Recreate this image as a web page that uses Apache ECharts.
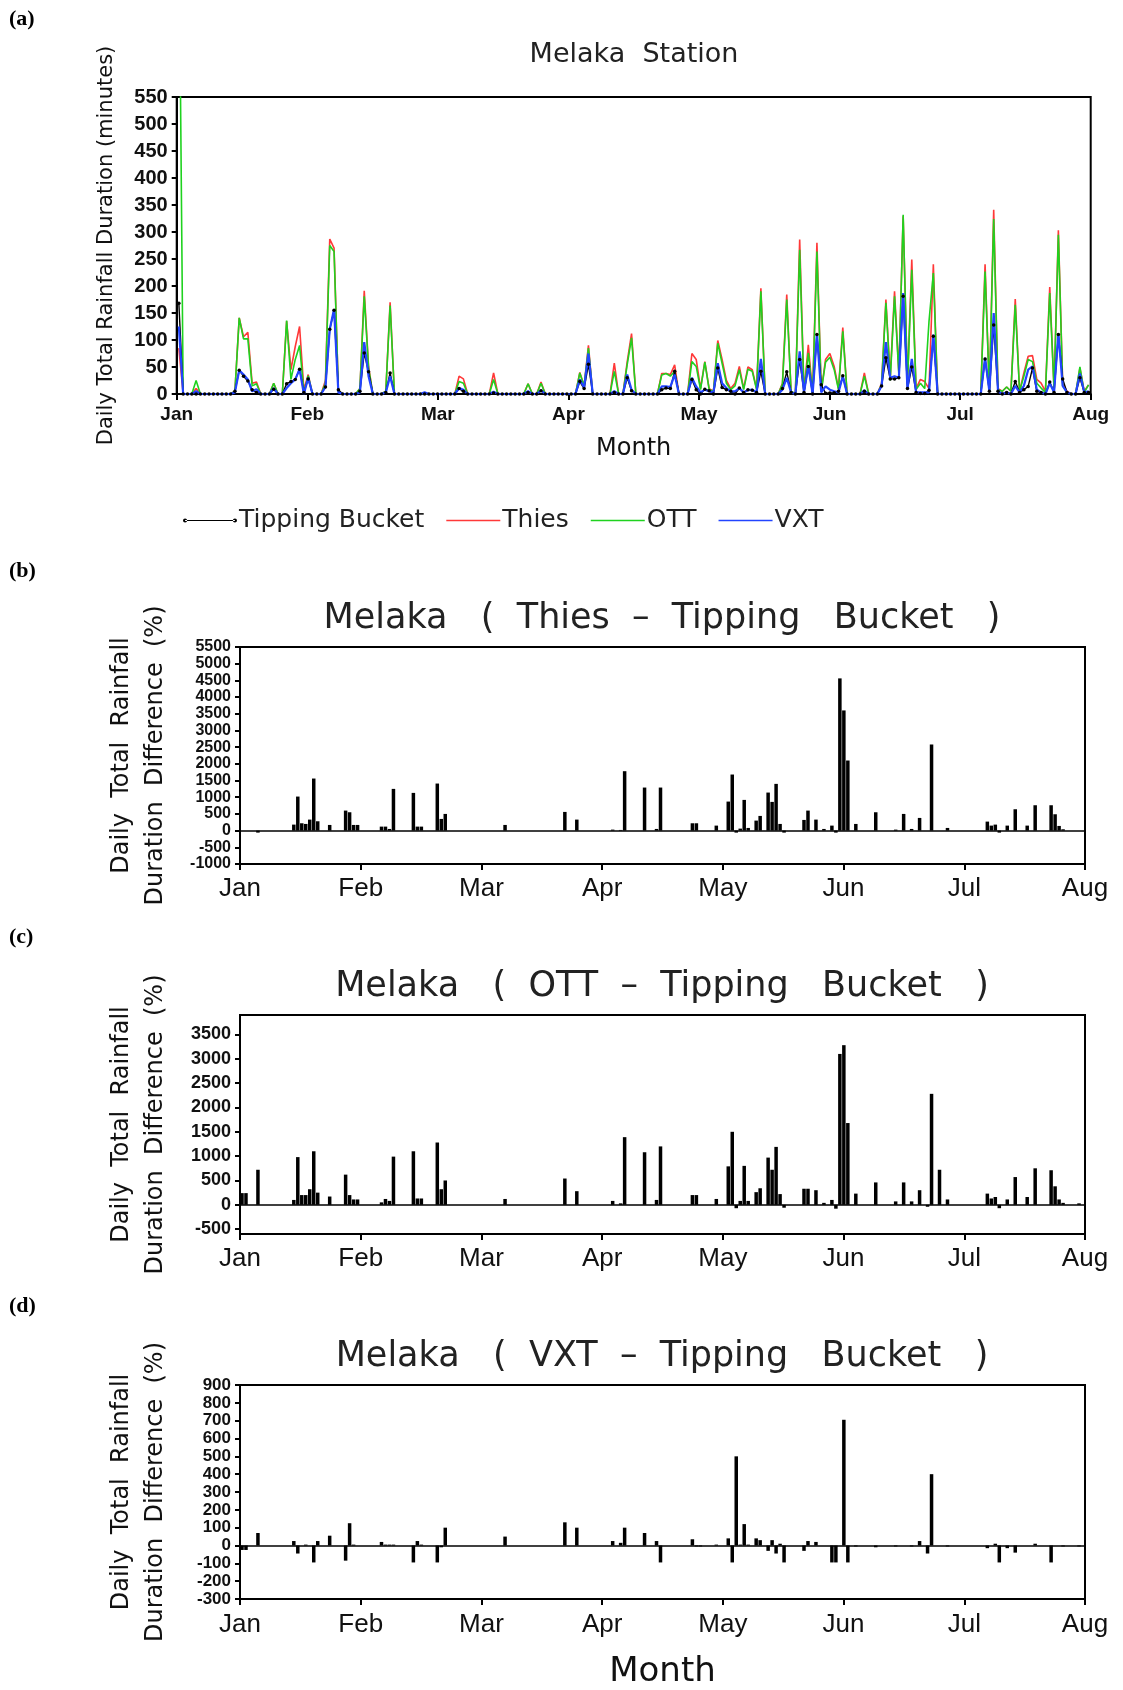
<!DOCTYPE html>
<html>
<head>
<meta charset="utf-8">
<title>Melaka rainfall duration</title>
<script src="https://cdn.jsdelivr.net/npm/echarts@6/dist/echarts.min.js"></script>
<style>
  html, body { margin: 0; padding: 0; background: #fff; }
  #chart { width: 1123px; height: 1690px; }
</style>
</head>
<body>
<div id="chart"></div>
<script>
// month tick labels, days Jan 1 .. Jul 31 (212 daily values)
var months = ['Jan', 'Feb', 'Mar', 'Apr', 'May', 'Jun', 'Jul', 'Aug'];
var nDays = 212;

// (a) daily total rainfall duration, minutes
var tipping = [
  168,0,0,0,0,0,0,0,0,0,   0,0,0,5,44,33,24,8,3,0,
  0,0,9,0,0,19,23,27,46,3,   28,0,0,0,13,120,155,8,0,0,
  0,0,5,76,41,0,0,0,3,39,   0,0,0,0,0,0,0,0,0,0,
  0,0,0,0,0,10,5,0,0,0,   0,0,0,2,0,0,0,0,0,0,
  0,3,0,0,6,0,0,0,0,0,   0,0,0,23,10,55,0,0,0,0,
  0,3,0,0,30,6,0,0,0,0,   0,0,8,11,10,42,0,0,0,27,
  8,0,9,6,0,48,12,8,5,0,   11,3,8,7,3,42,0,0,0,0,
  10,41,3,0,64,3,51,0,110,17,   1.4,2,2.4,5,34,0,0,0,0,5,
  0,0,0,15,67,28,28,30,181,10,   50,3,1,1,7,107,0,0,0,0,
  0,0,0,0,0,0,0,65,5,128,   5,0,3,0,23,3,8,14,48,5,
  3,0,22,3,110,28,3,0,0,30,   3,3
];
var thies = [
  85,0,0,0,10,0,0,0,0,0,   0,0,0,5,141,106,114,20,22,0,
  0,0,20,0,0,135,45,88,125,8,   36,0,0,0,25,287,270,5,0,0,
  0,0,10,191,51,0,0,0,5,170,   0,0,0,0,0,0,0,0,0,0,
  0,0,0,0,0,33,28,0,0,0,   0,0,0,39,0,0,0,0,0,0,
  0,19,0,0,22,0,0,0,0,0,   0,0,0,40,15,90,0,0,0,0,
  0,57,0,0,60,112,0,0,0,0,   0,0,38,38,36,54,0,0,0,75,
  64,10,60,10,5,99,64,25,10,20,   51,10,50,45,10,196,0,0,0,0,
  20,184,5,0,286,3,91,0,280,5,   64,75,51,10,123,0,0,0,0,39,
  0,0,0,20,175,30,190,40,329,20,   249,10,27,23,10,240,0,0,0,0,
  0,0,0,0,0,0,0,240,5,341,   10,5,13,5,176,5,39,70,71,27,
  20,5,198,10,303,20,5,0,0,48,   5,17
];
var ott = [
  900,0,0,0,25,0,0,0,0,0,   0,0,0,5,141,102,102,15,19,0,
  0,0,20,0,0,136,27,64,90,3,   34,0,0,0,20,275,264,5,0,0,
  0,0,10,181,48,0,0,0,5,164,   0,0,0,0,0,0,0,0,0,0,
  0,0,0,0,0,23,20,0,0,0,   0,0,0,27,0,0,0,0,0,0,
  0,19,0,0,20,0,0,0,0,0,   0,0,0,39,15,85,0,0,0,0,
  0,42,0,0,55,104,0,0,0,0,   0,0,35,38,33,42,0,0,0,60,
  51,8,59,8,5,94,57,20,8,15,   45,8,46,42,8,190,0,0,0,0,
  18,175,5,0,267,3,76,0,264,5,   59,68,45,8,116,0,0,0,0,33,
  0,0,0,18,169,25,181,35,332,18,   230,8,20,10,135,224,0,0,0,0,
  0,0,0,0,0,0,0,227,5,324,   8,5,13,5,165,5,33,64,60,20,
  11,3,187,8,295,15,3,0,0,50,   3,17
];
var vxt = [
  125,0,0,0,5,0,0,0,0,0,   0,0,0,3,44,36,27,5,9,0,
  0,0,11,0,0,11,20,27,46,0,   30,0,0,0,13,120,157,3,0,0,
  0,0,3,96,33,0,0,0,3,33,   0,0,0,0,0,0,0,3,0,0,
  0,0,0,0,0,11,8,0,0,0,   0,0,0,4,0,0,0,0,0,0,
  0,5,0,0,7,0,0,0,0,0,   0,0,0,27,12,75,0,0,0,0,
  0,5,0,0,36,8,0,0,0,0,   0,0,14,14,13,36,0,0,0,30,
  14,3,8,5,3,57,20,11,5,5,   11,3,7,8,3,65,0,0,0,0,
  8,30,3,0,79,3,52,0,110,3,   14,8,5,3,33,0,0,0,0,7,
  0,0,0,15,96,30,33,30,187,10,   65,3,3,3,3,110,0,0,0,0,
  0,0,0,0,0,0,0,67,5,150,   5,0,3,0,15,3,15,45,51,8,
  3,0,20,3,112,15,3,0,0,38,   3,5
];

// (b)-(d) daily difference against the tipping bucket, %
var diffThies = [
  0,0,0,0,-60,0,0,0,0,0,   0,0,0,180,1020,220,200,330,1560,280,
  0,0,170,0,0,0,600,550,170,170,   0,0,0,0,0,120,120,50,1250,0,
  0,0,0,1130,120,120,0,0,0,1410,   350,500,0,0,0,0,0,0,0,0,
  0,0,0,0,0,0,170,0,0,0,   0,0,0,0,0,0,0,0,0,0,
  0,560,0,0,330,0,0,0,0,0,   0,0,0,30,0,20,1780,0,0,0,
  0,1290,0,0,50,1290,0,0,0,0,   0,0,0,220,220,0,0,0,0,150,
  0,0,870,1680,-60,60,920,80,0,300,   440,0,1140,860,1400,200,-60,0,0,0,
  0,320,600,0,330,0,50,0,150,-60,   4560,3600,2100,0,200,0,0,0,0,550,
  0,0,0,0,30,0,500,0,50,0,   380,0,0,2580,0,0,0,80,0,0,
  0,0,0,0,0,0,0,270,150,180,   -60,0,150,0,640,0,0,150,0,760,
  0,0,0,760,490,140,40,0,0,0,   0,0
];
var diffOtt = [
  240,240,0,0,720,0,0,0,0,0,   0,0,0,100,980,200,200,320,1100,250,
  0,0,170,0,0,0,620,200,110,110,   0,0,0,0,0,50,120,80,990,0,
  0,0,0,1100,130,130,0,0,0,1280,   320,500,0,0,0,0,0,0,0,0,
  0,0,0,0,0,0,120,0,0,0,   0,0,0,0,0,0,0,0,0,0,
  0,540,0,0,280,0,0,0,0,0,   0,0,0,80,0,30,1390,0,0,0,
  0,1080,0,0,100,1200,0,0,0,0,   0,0,0,200,200,0,0,0,0,120,
  0,0,790,1500,-70,80,800,80,0,260,   340,0,970,720,1190,220,-60,0,0,0,
  0,330,330,0,300,0,40,0,100,-80,   3100,3280,1680,0,230,0,0,0,0,460,
  0,0,0,0,70,0,460,0,70,0,   300,0,-40,2280,0,720,0,110,0,0,
  0,0,0,0,0,0,0,230,130,160,   -70,0,110,0,570,0,0,160,0,750,
  0,0,0,710,380,110,40,0,0,0,   30,0
];
var diffVxt = [
  -25,-25,0,0,70,0,0,0,0,0,   0,0,0,25,-45,0,5,0,-95,25,
  0,0,55,0,0,0,-85,125,5,0,   0,0,0,0,0,20,5,5,5,0,
  0,0,0,-95,25,5,0,0,0,-95,   -10,100,0,0,0,0,0,0,0,0,
  0,0,0,0,0,0,50,0,0,0,   0,0,0,0,0,0,0,0,0,0,
  0,130,0,0,100,0,0,0,0,0,   0,0,0,25,0,15,100,0,0,0,
  0,70,0,0,25,-95,0,0,0,0,   0,0,0,35,-5,-5,0,0,0,5,
  0,0,40,-95,500,5,120,5,0,40,   30,0,-30,30,-45,10,-95,0,0,0,
  0,-30,25,0,20,0,0,0,-95,-95,   0,705,-95,0,-5,0,0,0,0,-10,
  0,0,0,0,-5,0,0,0,-5,0,   25,0,-45,400,0,0,0,-5,0,0,
  0,0,0,0,0,0,0,-15,0,10,   -95,0,-15,0,-40,0,0,0,0,10,
  0,0,0,-95,0,0,-5,0,0,0,   -5,0
];

// y tick labels of each panel
var ticksA = [0, 50, 100, 150, 200, 250, 300, 350, 400, 450, 500, 550];
var ticksB = [-1000, -500, 0, 500, 1000, 1500, 2000, 2500, 3000, 3500, 4000, 4500, 5000, 5500];
var ticksC = [-500, 0, 500, 1000, 1500, 2000, 2500, 3000, 3500];
var ticksD = [-300, -200, -100, 0, 100, 200, 300, 400, 500, 600, 700, 800, 900];

var monthPos = months.map(function (m, k) { return k * nDays / 7; });

function pairs(arr) {
  return arr.map(function (v, i) { return [i + 0.5, v]; });
}

var SANS = 'DejaVu Sans';
var LAB = 'Liberation Sans';

function dayAxis(gi, bold, size, margin, name, nameSize, nameGap) {
  return {
    type: 'value', gridIndex: gi, min: 0, max: nDays,
    name: name || '', nameLocation: 'middle', nameGap: nameGap || 0,
    nameTextStyle: { fontFamily: SANS, fontSize: nameSize || 12, color: '#111' },
    axisLine: { onZero: false, lineStyle: { color: '#000', width: 2 } },
    axisTick: { customValues: monthPos, length: 6, lineStyle: { color: '#000', width: 2 } },
    axisLabel: {
      customValues: monthPos, margin: margin, color: '#111',
      showMinLabel: true, showMaxLabel: true,
      fontFamily: LAB, fontSize: size, fontWeight: bold ? 'bold' : 'normal',
      formatter: function (v) { return months[Math.round(v * 7 / nDays)]; }
    },
    splitLine: { show: false }
  };
}

function valAxis(gi, min, max, ticks, size, name, nameSize, nameGap) {
  return {
    type: 'value', gridIndex: gi, min: min, max: max,
    name: name, nameLocation: 'middle', nameRotate: 90, nameGap: nameGap,
    nameTextStyle: { fontFamily: SANS, fontSize: nameSize, color: '#111', lineHeight: 34 },
    axisLine: { onZero: false, lineStyle: { color: '#000', width: 2 } },
    axisTick: { customValues: ticks, length: 5, lineStyle: { color: '#000', width: 2 } },
    axisLabel: { customValues: ticks, margin: 9, color: '#111', fontFamily: LAB, fontSize: size,
      fontWeight: 'bold', showMinLabel: true, showMaxLabel: true, hideOverlap: false,
      formatter: function (v) { return String(v); } },
    splitLine: { show: false }
  };
}

var diffName = 'Daily  Total  Rainfall\nDuration  Difference  (%)';

function barSeries(name, arr, gi) {
  return {
    name: name, type: 'bar', xAxisIndex: gi, yAxisIndex: gi,
    data: pairs(arr), barWidth: 3.5, itemStyle: { color: '#000' },
    markLine: {
      silent: true, symbol: 'none', label: { show: false },
      lineStyle: { color: '#000', width: 1.5, type: 'solid' },
      data: [{ yAxis: 0 }]
    }
  };
}

function panelTitle(text, x, y, size) {
  return { text: text, left: x, top: y, textAlign: 'center', padding: 0,
    textStyle: { fontFamily: SANS, fontSize: size, fontWeight: 'normal', color: '#222' } };
}
function panelTag(text, y) {
  return { text: text, left: 9, top: y, padding: 0,
    textStyle: { fontFamily: 'Liberation Serif', fontSize: 22, fontWeight: 'bold', color: '#000' } };
}

var lineIcon = 'path://M0,0H52V1.6H0Z';
var dotLineIcon = 'path://M2,1.4H50V2.6H2Z M0,2a2,2 0 1,0 4,0a2,2 0 1,0 -4,0Z M48,2a2,2 0 1,0 4,0a2,2 0 1,0 -4,0Z';

var chart = echarts.init(document.getElementById('chart'), null, { renderer: 'canvas' });

chart.setOption({
  animation: false,
  backgroundColor: '#fff',
  title: [
    panelTag('(a)', 8),
    panelTag('(b)', 560),
    panelTag('(c)', 926),
    panelTag('(d)', 1295),
    panelTitle('Melaka  Station', 634, 41, 27),
    panelTitle('Melaka   (  Thies  \u2013  Tipping   Bucket   )', 662, 601, 35),
    panelTitle('Melaka   (  OTT  \u2013  Tipping   Bucket   )', 662, 969, 35),
    panelTitle('Melaka   (  VXT  \u2013  Tipping   Bucket   )', 662, 1339, 35)
  ],
  legend: {
    data: [
      { name: 'Tipping Bucket', icon: dotLineIcon },
      { name: 'Thies', icon: lineIcon },
      { name: 'OTT', icon: lineIcon },
      { name: 'VXT', icon: lineIcon }
    ],
    left: 178, top: 503, itemWidth: 54, itemHeight: 8, itemGap: 22,
    textStyle: { fontFamily: SANS, fontSize: 25, color: '#222', padding: [0, 0, 0, -3] }
  },
  grid: [
    { left: 176.7, right: 32.3, top: 97, height: 297, show: true, borderColor: '#000', borderWidth: 2 },
    { left: 240, right: 38, top: 647, height: 217, show: true, borderColor: '#000', borderWidth: 2 },
    { left: 240, right: 38, top: 1015, height: 219, show: true, borderColor: '#000', borderWidth: 2 },
    { left: 240, right: 38, top: 1385, height: 217, show: true, borderColor: '#000', borderWidth: 2 }
  ],
  xAxis: [
    dayAxis(0, true, 19, 11, 'Month', 24, 43),
    dayAxis(1, false, 26, 12),
    dayAxis(2, false, 26, 12),
    dayAxis(3, false, 26, 13, 'Month', 34, 56)
  ],
  yAxis: [
    valAxis(0, 0, 550, ticksA, 20, 'Daily Total Rainfall Duration (minutes)', 21, 51),
    valAxis(1, -1000, 5500, ticksB, 16, diffName, 24, 67),
    valAxis(2, -600, 3900, ticksC, 18, diffName, 24, 67),
    valAxis(3, -300, 900, ticksD, 17, diffName, 24, 67)
  ],
  series: [
    { name: 'Thies', type: 'line', xAxisIndex: 0, yAxisIndex: 0, data: pairs(thies),
      showSymbol: false, lineStyle: { color: '#ff3838', width: 1.6 }, itemStyle: { color: '#ff3838' } },
    { name: 'OTT', type: 'line', xAxisIndex: 0, yAxisIndex: 0, data: pairs(ott),
      showSymbol: false, lineStyle: { color: '#1fd21f', width: 1.6 }, itemStyle: { color: '#1fd21f' } },
    { name: 'Tipping Bucket', type: 'line', xAxisIndex: 0, yAxisIndex: 0, data: pairs(tipping),
      symbol: 'circle', symbolSize: 3.5, lineStyle: { color: '#000', width: 1.4 }, itemStyle: { color: '#000' } },
    { name: 'VXT', type: 'line', xAxisIndex: 0, yAxisIndex: 0, data: pairs(vxt),
      showSymbol: false, lineStyle: { color: '#2244ff', width: 2.2 }, itemStyle: { color: '#2244ff' } },
    barSeries('Thies - TB', diffThies, 1),
    barSeries('OTT - TB', diffOtt, 2),
    barSeries('VXT - TB', diffVxt, 3)
  ]
});
</script>
</body>
</html>
